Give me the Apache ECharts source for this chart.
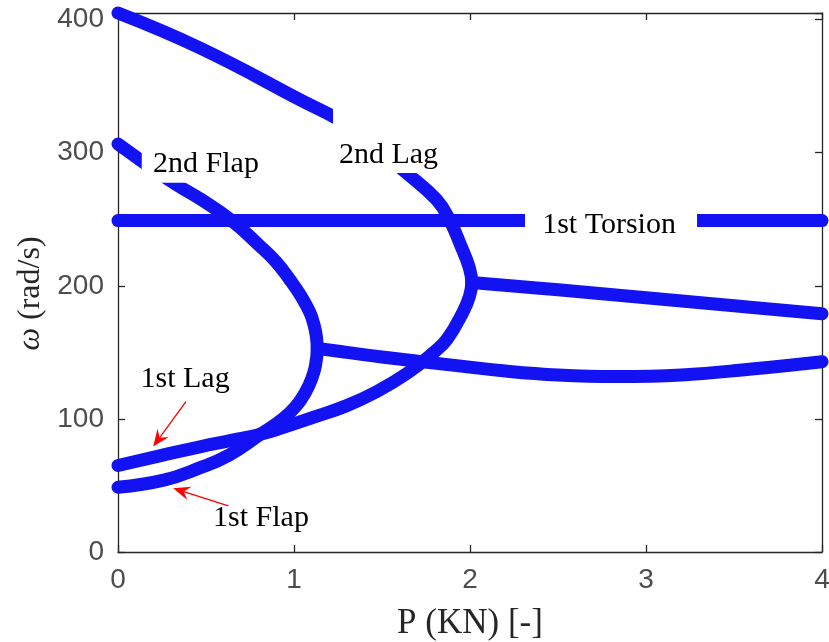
<!DOCTYPE html>
<html>
<head>
<meta charset="utf-8">
<script src="https://cdn.jsdelivr.net/npm/echarts@6/dist/echarts.min.js"></script>
<style>html,body{margin:0;padding:0;background:#fff}#c{width:829px;height:642px}</style>
</head>
<body>
<div id="c"></div>
<script>
// ---- data (P in kN, omega in rad/s) ----
const xTicks = [0, 1, 2, 3, 4];
const yTicks = [0, 100, 200, 300, 400];

// 1st Flap (lower-left) -> coalescence ~P=1.13 -> 2nd Flap (back to P=0)
const loopA_P = [0, 0.26, 0.46, 0.627, 0.81, 0.937, 1.014, 1.065, 1.1, 1.122, 1.132, 1.127, 1.115, 1.09, 1.041, 0.977, 0.898, 0.806, 0.646, 0.471, 0.32, 0.125, 0];
const loopA_W = [48.6, 54, 63, 72.5, 88.5, 100, 110, 120, 130, 140, 153, 162, 170, 180, 192, 204.5, 218, 230, 249, 265, 277, 294.7, 306.5];

// 1st Lag (upper-left) -> coalescence ~P=2.01 -> 2nd Lag (back to P=0)
const loopB_P = [0, 0.277, 0.466, 0.65, 0.81, 0.936, 1.117, 1.3, 1.47, 1.645, 1.79, 1.87, 1.959, 1.997, 2.01, 1.995, 1.95, 1.886, 1.81, 1.64, 1.328, 1.034, 0.466, 0];
const loopB_W = [65, 73.5, 79, 84, 88.5, 93.5, 101.5, 110, 120.5, 134.5, 149.5, 160, 180, 192, 202.5, 214, 229.5, 249, 264.7, 284.7, 318.8, 339.8, 378.7, 405];

// merged branches after coalescence
const mergedLow_P = [1.132, 1.3, 1.5, 1.886, 2.2, 2.5, 2.83, 3.2, 3.6, 4];
const mergedLow_W = [153, 150, 146.5, 140.6, 136, 133, 131.8, 133, 137.5, 143];
const mergedHigh_P = [2.01, 2.5, 3.0, 3.5, 4];
const mergedHigh_W = [202.5, 197, 191, 185, 179];

// 1st Torsion
const torsion_P = [0, 1, 2, 3, 4];
const torsion_W = [249, 249, 249, 249, 249];

// annotation texts and anchor points (data coords)
const labels = [
  {text: '2nd Flap',    at: [0.5, 291.7],  box: [[0.135, 309.8], [0.852, 277.4]]},
  {text: '2nd Lag',     at: [1.537, 298.5], box: [[1.222, 394], [1.864, 284.7]]},
  {text: '1st Torsion', at: [2.79, 245.9], box: [[2.3125, 260.9], [3.29, 230.8]]},
  {text: '1st Lag',     at: [0.381, 130]},
  {text: '1st Flap',    at: [0.8125, 25.6]}
];
const arrows = [
  {from: [0.386, 113], to: [0.2, 79.2]},
  {from: [0.627, 34.6], to: [0.314, 47.9]}
];

const zip = (a, b) => a.map((v, i) => [v, b[i]]);

const chart = echarts.init(document.getElementById('c'), null, {renderer: 'canvas'});
const BAND = '#1212f2';
const bandSeries = (name, P, W) => ({
  name, type: 'line', data: zip(P, W), smooth: 0.45, showSymbol: false, symbol: 'none',
  clip: false, lineStyle: {color: BAND, width: 13, cap: 'round', join: 'round'}, z: 3
});

const axisCol = '#262626';
const common = {
  axisLine: {show: true, onZero: false, lineStyle: {color: axisCol, width: 1.3}},
  axisTick: {show: true, inside: true, length: 7, lineStyle: {color: axisCol, width: 1.3}},
  splitLine: {show: false}
};

chart.setOption({
  animation: false,
  backgroundColor: '#ffffff',
  grid: {left: 118, right: 7, top: 13, bottom: 90, containLabel: false, outerBoundsMode: 'none'},
  xAxis: [
    Object.assign({
      type: 'value', min: xTicks[0], max: xTicks[xTicks.length - 1], interval: 1, position: 'bottom',
      axisLabel: {fontFamily: 'Liberation Sans', fontSize: 28, color: '#4d4d4d', margin: 14},
      name: 'P (KN) [-]', nameLocation: 'middle', nameGap: 54,
      nameTextStyle: {fontFamily: 'Liberation Serif', fontSize: 35, color: axisCol}
    }, common),
    Object.assign({
      type: 'value', min: xTicks[0], max: xTicks[xTicks.length - 1], interval: 1, position: 'top',
      axisLabel: {show: false}
    }, common)
  ],
  yAxis: [
    Object.assign({
      type: 'value', min: yTicks[0], max: 405, interval: 100, position: 'left',
      axisLabel: {fontFamily: 'Liberation Sans', fontSize: 28, color: '#4d4d4d', margin: 14,
        formatter: v => (yTicks.indexOf(v) >= 0 ? String(v) : '')},
      name: '{w|ω} (rad/s)', nameLocation: 'middle', nameGap: 66, nameRotate: 90,
      nameTextStyle: {fontFamily: 'Liberation Serif', fontSize: 32, color: axisCol, padding: [0, 22, 0, 0],
        rich: {w: {fontFamily: 'Liberation Serif', fontStyle: 'italic', fontSize: 32, color: axisCol}}}
    }, common),
    Object.assign({
      type: 'value', min: yTicks[0], max: 405, interval: 100, position: 'right',
      axisLabel: {show: false}
    }, common)
  ],
  series: [
    bandSeries('1st Torsion', torsion_P, torsion_W),
    bandSeries('1st Flap / 2nd Flap', loopA_P, loopA_W),
    bandSeries('1st Lag / 2nd Lag', loopB_P, loopB_W),
    bandSeries('merged low', mergedLow_P, mergedLow_W),
    bandSeries('merged high', mergedHigh_P, mergedHigh_W)
  ]
});

// annotations placed through the chart's own coordinate system
const px = p => chart.convertToPixel({gridIndex: 0}, p);
const g = [];
labels.forEach(l => {
  if (l.box) {
    const a = px(l.box[0]), b = px(l.box[1]);
    g.push({type: 'rect', z: 50, silent: true,
      shape: {x: Math.min(a[0], b[0]), y: Math.min(a[1], b[1]), width: Math.abs(b[0] - a[0]), height: Math.abs(b[1] - a[1])},
      style: {fill: '#ffffff'}});
  }
  const c = px(l.at);
  g.push({type: 'text', z: 51, silent: true, x: c[0], y: c[1],
    style: {text: l.text, fill: '#000000', font: '30px "Liberation Serif"', textAlign: 'center', textVerticalAlign: 'middle'}});
});
arrows.forEach(a => {
  const s = px(a.from), t = px(a.to);
  const dx = t[0] - s[0], dy = t[1] - s[1], L = Math.hypot(dx, dy);
  const ux = dx / L, uy = dy / L, nx = -uy, ny = ux;
  const hl = 17, hw = 7, notch = 11;
  g.push({type: 'line', z: 52, silent: true,
    shape: {x1: s[0], y1: s[1], x2: t[0] - ux * notch, y2: t[1] - uy * notch},
    style: {stroke: '#ff0000', lineWidth: 1.3}});
  g.push({type: 'polygon', z: 52, silent: true,
    shape: {points: [
      [t[0], t[1]],
      [t[0] - ux * hl + nx * hw, t[1] - uy * hl + ny * hw],
      [t[0] - ux * notch, t[1] - uy * notch],
      [t[0] - ux * hl - nx * hw, t[1] - uy * hl - ny * hw]
    ]},
    style: {fill: '#ff0000'}});
});
chart.setOption({graphic: g});
</script>
</body>
</html>
